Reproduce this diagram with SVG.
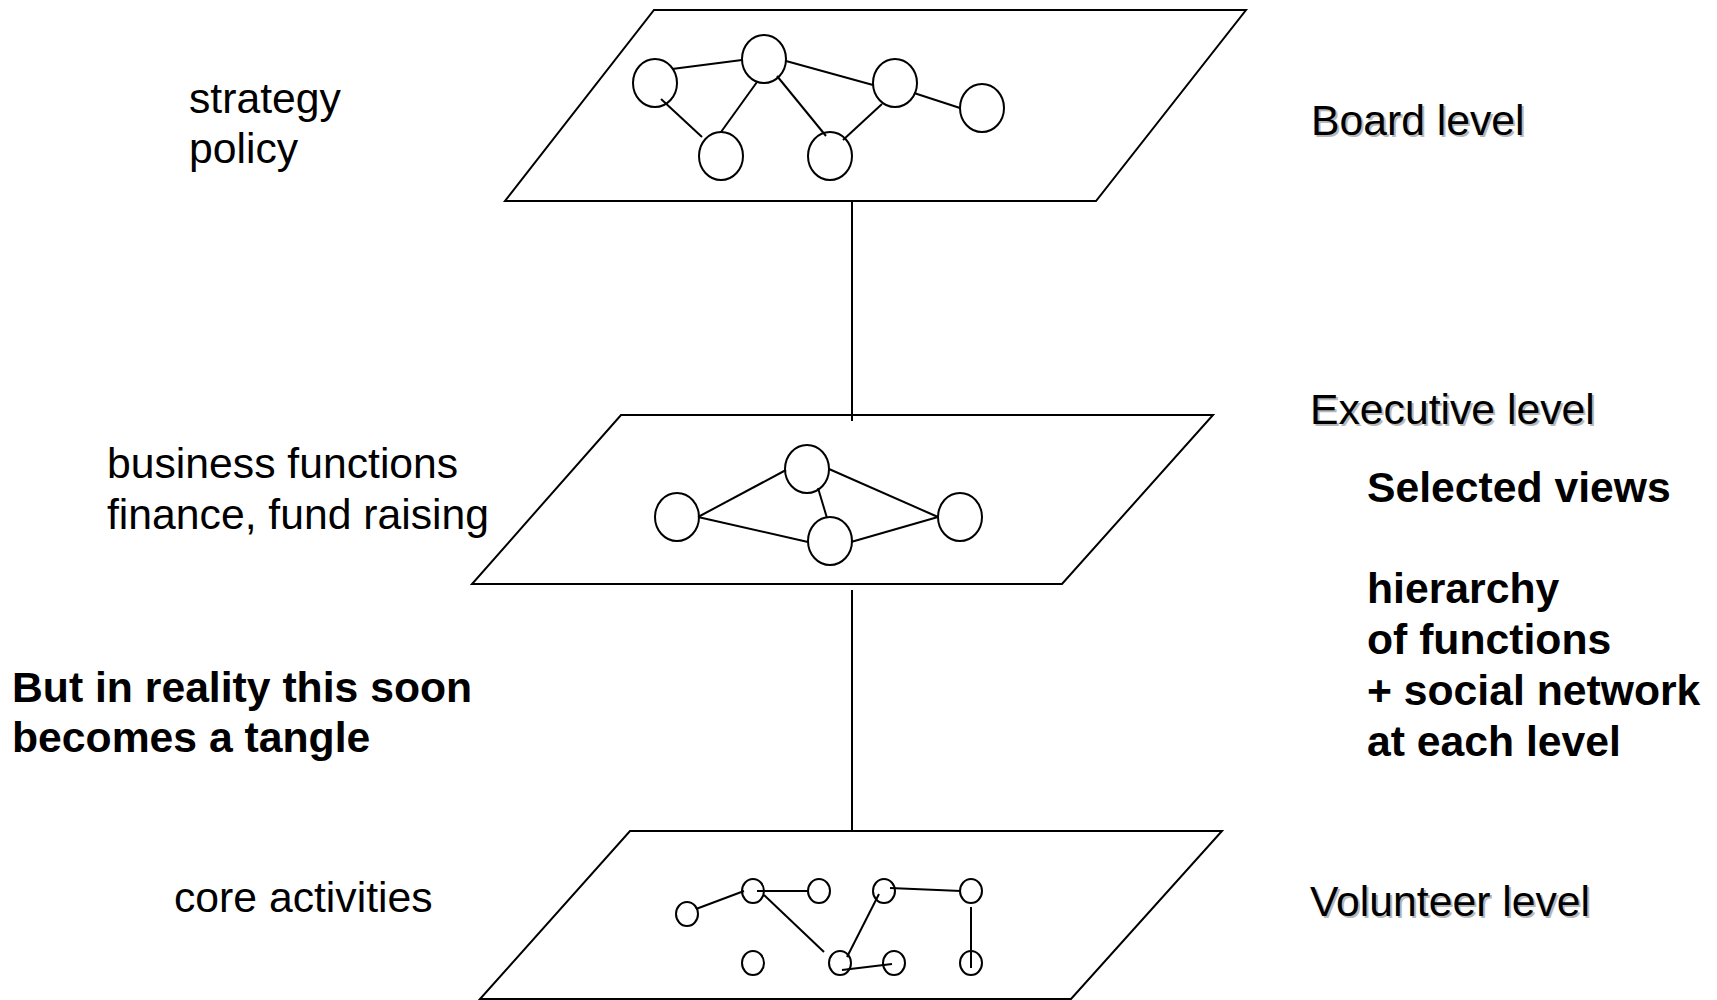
<svg xmlns="http://www.w3.org/2000/svg" width="1717" height="1000" viewBox="0 0 1717 1000">
<style>
.plane{fill:none;stroke:#000;stroke-width:2}
.n{fill:none;stroke:#000;stroke-width:2}
.e{stroke:#000;stroke-width:2;fill:none}
.t{font-family:"Liberation Sans",Arial,sans-serif;font-size:42.7px;fill:#000}
.b{font-weight:bold}
.sh{fill:#b8b8b8}
</style>
<rect width="1717" height="1000" fill="#fff"/>

<g id="connectors">
  <line class="e" x1="852" y1="201" x2="852" y2="421"/>
  <line class="e" x1="852" y1="590" x2="852" y2="831"/>
  <line class="e" x1="672" y1="69" x2="742" y2="60"/>
  <line class="e" x1="786" y1="61" x2="873" y2="85"/>
  <line class="e" x1="914" y1="93" x2="960" y2="108"/>
  <line class="e" x1="661" y1="99" x2="702" y2="137"/>
  <line class="e" x1="757" y1="82" x2="721" y2="132"/>
  <line class="e" x1="777" y1="76" x2="826" y2="136"/>
  <line class="e" x1="882" y1="104" x2="843" y2="140"/>
  <line class="e" x1="698" y1="517" x2="786" y2="470"/>
  <line class="e" x1="698" y1="517" x2="808" y2="542"/>
  <line class="e" x1="818" y1="488" x2="827" y2="518"/>
  <line class="e" x1="829" y1="469" x2="938" y2="517"/>
  <line class="e" x1="851" y1="542" x2="938" y2="517"/>
  <line class="e" x1="696" y1="909" x2="744" y2="891"/>
  <line class="e" x1="757" y1="891" x2="808" y2="891"/>
  <line class="e" x1="764" y1="895" x2="824" y2="952"/>
  <line class="e" x1="879" y1="894" x2="847" y2="957"/>
  <line class="e" x1="890" y1="888" x2="961" y2="891"/>
  <line class="e" x1="971" y1="907" x2="971" y2="968"/>
  <line class="e" x1="842" y1="970" x2="892" y2="964"/>
</g>

<g id="board-plane">
  <polygon class="plane" points="654,10 1246,10 1096,201 505,201"/>
</g>
<g id="executive-plane">
  <polygon class="plane" points="621,415 1213,415 1062,584 472,584"/>
</g>
<g id="volunteer-plane">
  <polygon class="plane" points="630,831 1222,831 1071,999 480,999"/>
</g>

<g id="board-nodes">
  <g id="b1"><ellipse class="n" cx="655" cy="83" rx="22" ry="24"/></g>
  <g id="b2"><ellipse class="n" cx="764" cy="59" rx="22" ry="24"/></g>
  <g id="b3"><ellipse class="n" cx="895" cy="83" rx="22" ry="24"/></g>
  <g id="b4"><ellipse class="n" cx="982" cy="108" rx="22" ry="24"/></g>
  <g id="b5"><ellipse class="n" cx="721" cy="156" rx="22" ry="24"/></g>
  <g id="b6"><ellipse class="n" cx="830" cy="156" rx="22" ry="24"/></g>
</g>

<g id="executive-nodes">
  <g id="m1"><ellipse class="n" cx="677" cy="517" rx="22" ry="24"/></g>
  <g id="m2"><ellipse class="n" cx="807" cy="469" rx="22" ry="24"/></g>
  <g id="m3"><ellipse class="n" cx="830" cy="541" rx="22" ry="24"/></g>
  <g id="m4"><ellipse class="n" cx="960" cy="517" rx="22" ry="24"/></g>
</g>

<g id="volunteer-nodes">
  <g id="v1"><ellipse class="n" cx="687" cy="914" rx="11" ry="12"/></g>
  <g id="v2"><ellipse class="n" cx="753" cy="891" rx="11" ry="12"/></g>
  <g id="v3"><ellipse class="n" cx="819" cy="891" rx="11" ry="12"/></g>
  <g id="v4"><ellipse class="n" cx="884" cy="891" rx="11" ry="12"/></g>
  <g id="v5"><ellipse class="n" cx="971" cy="891" rx="11" ry="12"/></g>
  <g id="v6"><ellipse class="n" cx="753" cy="963" rx="11" ry="12"/></g>
  <g id="v7"><ellipse class="n" cx="840" cy="963" rx="11" ry="12"/></g>
  <g id="v8"><ellipse class="n" cx="894" cy="963" rx="11" ry="12"/></g>
  <g id="v9"><ellipse class="n" cx="971" cy="963" rx="11" ry="12"/></g>
</g>

<g id="left-labels">
  <text class="t" x="189" y="113">strategy</text>
  <text class="t" x="189" y="163">policy</text>
  <text class="t" x="107" y="478">business functions</text>
  <text class="t" x="107" y="529">finance, fund raising</text>
  <text class="t b" x="12" y="702">But in reality this soon</text>
  <text class="t b" x="12" y="752">becomes a tangle</text>
  <text class="t" x="174" y="912">core activities</text>
</g>

<g id="level-labels">
  <text class="t sh" x="1313" y="137">Board level</text>
  <text class="t" x="1311" y="135">Board level</text>
  <text class="t sh" x="1312" y="426">Executive level</text>
  <text class="t" x="1310" y="424">Executive level</text>
  <text class="t sh" x="1312" y="918">Volunteer level</text>
  <text class="t" x="1310" y="916">Volunteer level</text>
</g>

<g id="notes">
  <text class="t b" x="1367" y="502">Selected views</text>
  <text class="t b" x="1367" y="603">hierarchy</text>
  <text class="t b" x="1367" y="654">of functions</text>
  <text class="t b" x="1367" y="705">+ social network</text>
  <text class="t b" x="1367" y="756">at each level</text>
</g>
</svg>
